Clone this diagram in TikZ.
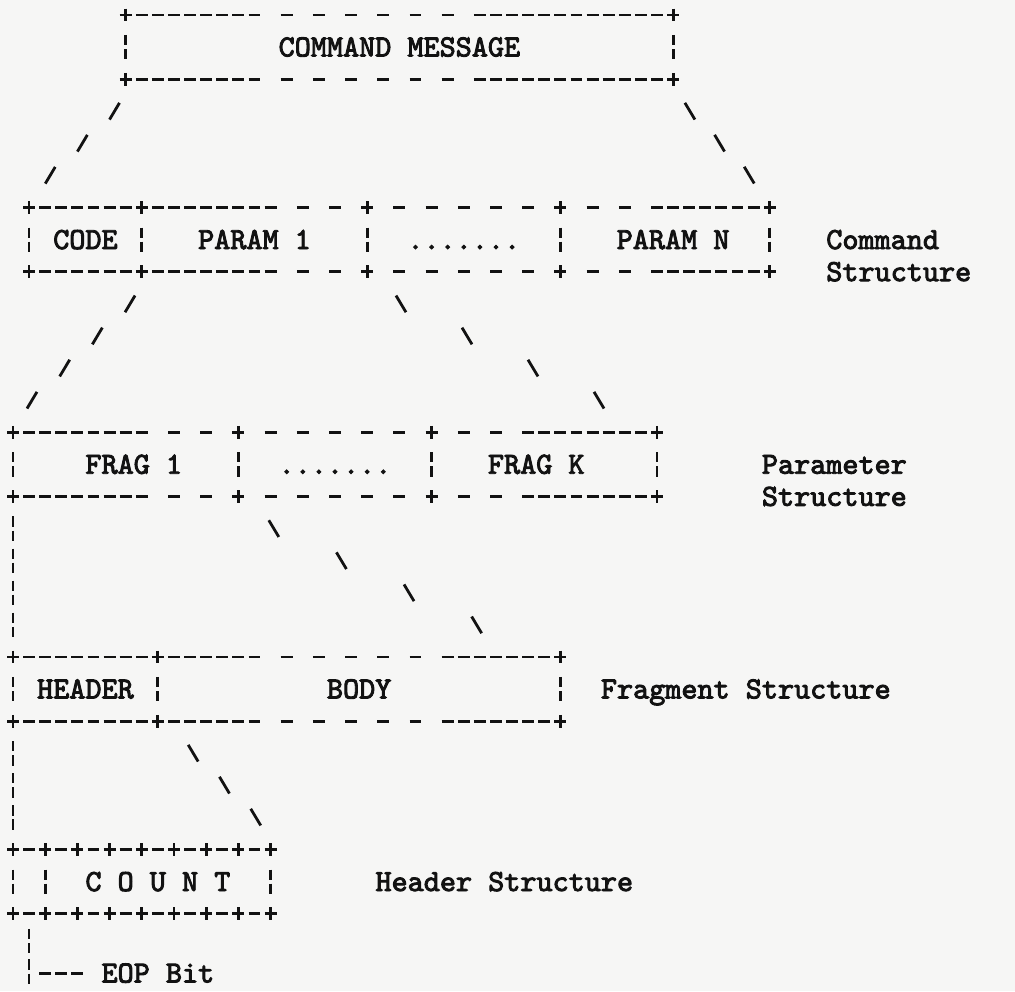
\documentclass[tikz,border=0pt]{standalone}
\usepackage{fontspec}
\newfontfamily\printerfont{lmmono10-regular.otf}[FakeBold=3]
\usetikzlibrary{decorations.markings}

\definecolor{paper}{RGB}{246,246,245}
\definecolor{ink}{RGB}{18,18,18}

% one row of hyphens, line #1, from column #2 to column #3
\newcommand{\dashrun}[3]{\draw[hyph] ({#2-0.37},#1) -- ({#3+0.37},#1);}
% hyphens on every other column
\newcommand{\dashgap}[3]{\draw[hyphgap] ({#2-0.37},#1) -- ({#3+0.37},#1);}

\tikzset{
  x=12.075pt, y=-24.075pt,
  glyph/.style={draw=ink, line width=2.1pt},
  hyph/.style={glyph, dash pattern=on 8.94pt off 3.135pt},
  hyphgap/.style={glyph, dash pattern=on 8.94pt off 15.21pt},
  crossmark/.pic={\draw[glyph] (-0.37,0) -- (0.37,0) (0,-0.2) -- (0,0.2);},
  brokenbar/.pic={\draw[glyph] (0,-0.38) -- (0,-0.06) (0,0.06) -- (0,0.38);},
  asciitext/.style={inner sep=0pt, anchor=base, text=ink,
    font=\printerfont\fontsize{23pt}{26pt}\selectfont},
  fanfwd/.style={decoration={markings, mark=between positions #1 and 0.9 step #1 with
    {\pgftransformresetnontranslations \draw[glyph] (-0.31,0.26) -- (0.31,-0.26);}},
    postaction={decorate}},
  fanback/.style={decoration={markings, mark=between positions #1 and 0.9 step #1 with
    {\pgftransformresetnontranslations \draw[glyph] (-0.31,-0.26) -- (0.31,0.26);}},
    postaction={decorate}},
  fanbar/.style={decoration={markings, mark=between positions #1 and 0.9 step #1 with
    {\pgftransformresetnontranslations \draw[glyph] (0,-0.38) -- (0,-0.06) (0,0.06) -- (0,0.38);}},
    postaction={decorate}}
}

\begin{document}
\begin{tikzpicture}
\path[use as bounding box, fill=paper] (-0.807,-0.467) rectangle (62.236,30.405);

% command message
\foreach \c in {7,41} {\pic at (\c,0) {crossmark}; \pic at (\c,2) {crossmark}; \pic at (\c,1) {brokenbar};}
\foreach \l in {0,2} {\dashrun{\l}{8}{15} \dashgap{\l}{17}{27} \dashrun{\l}{29}{40}}
\node[asciitext] (cmdmsg) at (24,1.29) {COMMAND MESSAGE};

% command structure
\foreach \c in {1,8,22,34,47} {\pic at (\c,6) {crossmark}; \pic at (\c,8) {crossmark}; \pic at (\c,7) {brokenbar};}
\foreach \l in {6,8} {\dashrun{\l}{2}{7} \dashrun{\l}{9}{16} \dashgap{\l}{18}{20} \dashgap{\l}{24}{32} \dashgap{\l}{36}{38} \dashrun{\l}{40}{46}}
\node[asciitext] (code) at (4.5,7.29) {CODE};
\node[asciitext] (param1) at (15,7.29) {PARAM 1};
\node[asciitext] (moreparams) at (28,7.29) {.......};
\node[asciitext] (paramN) at (41,7.29) {PARAM N};
\node[asciitext, anchor=base west] (cmdtitle) at (50.5,7.29) {Command};
\node[asciitext, anchor=base west] (cmdtitle2) at (50.5,8.29) {Structure};

% parameter structure
\foreach \c in {0,14,26,40} {\pic at (\c,13) {crossmark}; \pic at (\c,15) {crossmark}; \pic at (\c,14) {brokenbar};}
\foreach \l in {13,15} {\dashrun{\l}{1}{8} \dashgap{\l}{10}{12} \dashgap{\l}{16}{24} \dashgap{\l}{28}{30} \dashrun{\l}{32}{39}}
\node[asciitext] (frag1) at (7.5,14.29) {FRAG 1};
\node[asciitext] (morefrags) at (20,14.29) {.......};
\node[asciitext] (fragK) at (32.5,14.29) {FRAG K};
\node[asciitext, anchor=base west] (partitle) at (46.5,14.29) {Parameter};
\node[asciitext, anchor=base west] (partitle2) at (46.5,15.29) {Structure};

% fragment structure
\foreach \c in {0,9,34} {\pic at (\c,20) {crossmark}; \pic at (\c,22) {crossmark}; \pic at (\c,21) {brokenbar};}
\foreach \l in {20,22} {\dashrun{\l}{1}{8} \dashrun{\l}{10}{15} \dashgap{\l}{17}{25} \dashrun{\l}{27}{33}}
\node[asciitext] (header) at (4.5,21.29) {HEADER};
\node[asciitext] (body) at (21.5,21.29) {BODY};
\node[asciitext, anchor=base west] (fragtitle) at (36.5,21.29) {Fragment Structure};

% header structure
\foreach \c in {0,2,...,16} {\pic at (\c,26) {crossmark}; \pic at (\c,28) {crossmark};}
\foreach \c in {0,2,16} {\pic at (\c,27) {brokenbar};}
\dashgap{26}{1}{15} \dashgap{28}{1}{15}
\node[asciitext] (count) at (9,27.29) {C O U N T};
\node[asciitext, anchor=base west] (hdrtitle) at (22.5,27.29) {Header Structure};

% fan-out lines
\coordinate (cmdL) at (8.3,2);   \coordinate (codeL) at (0.3,6);
\coordinate (cmdR) at (40.2,2);  \coordinate (paramNR) at (47.6,6);
\coordinate (p1L) at (9.3,8);    \coordinate (frag1L) at (-0.85,13);
\coordinate (p1R) at (20,8);     \coordinate (fragKR) at (40.5,13);
\coordinate (f1L) at (0,15);     \coordinate (headerL) at (0,20);
\coordinate (f1R) at (12,15);    \coordinate (bodyR) at (33,20);
\coordinate (hdL) at (0,22);     \coordinate (countL) at (0,26);
\coordinate (hdR) at (9.25,22);  \coordinate (countR) at (17.05,26);
\coordinate (bit) at (1,27.9);   \coordinate (bitend) at (1,30.75);
\path[fanfwd=0.25] (cmdL) -- (codeL);
\path[fanback=0.25] (cmdR) -- (paramNR);
\path[fanfwd=0.2] (p1L) -- (frag1L);
\path[fanback=0.2] (p1R) -- (fragKR);
\path[fanbar=0.2] (f1L) -- (headerL);
\path[fanback=0.2] (f1R) -- (bodyR);
\path[fanbar=0.25] (hdL) -- (countL);
\path[fanback=0.25] (hdR) -- (countR);
\path[fanbar=0.3333] (bit) -- (bitend);

% EOP bit
\dashrun{29.85}{2}{4}
\node[asciitext] (eop) at (9,30.14) {EOP Bit};
\end{tikzpicture}
\end{document}
